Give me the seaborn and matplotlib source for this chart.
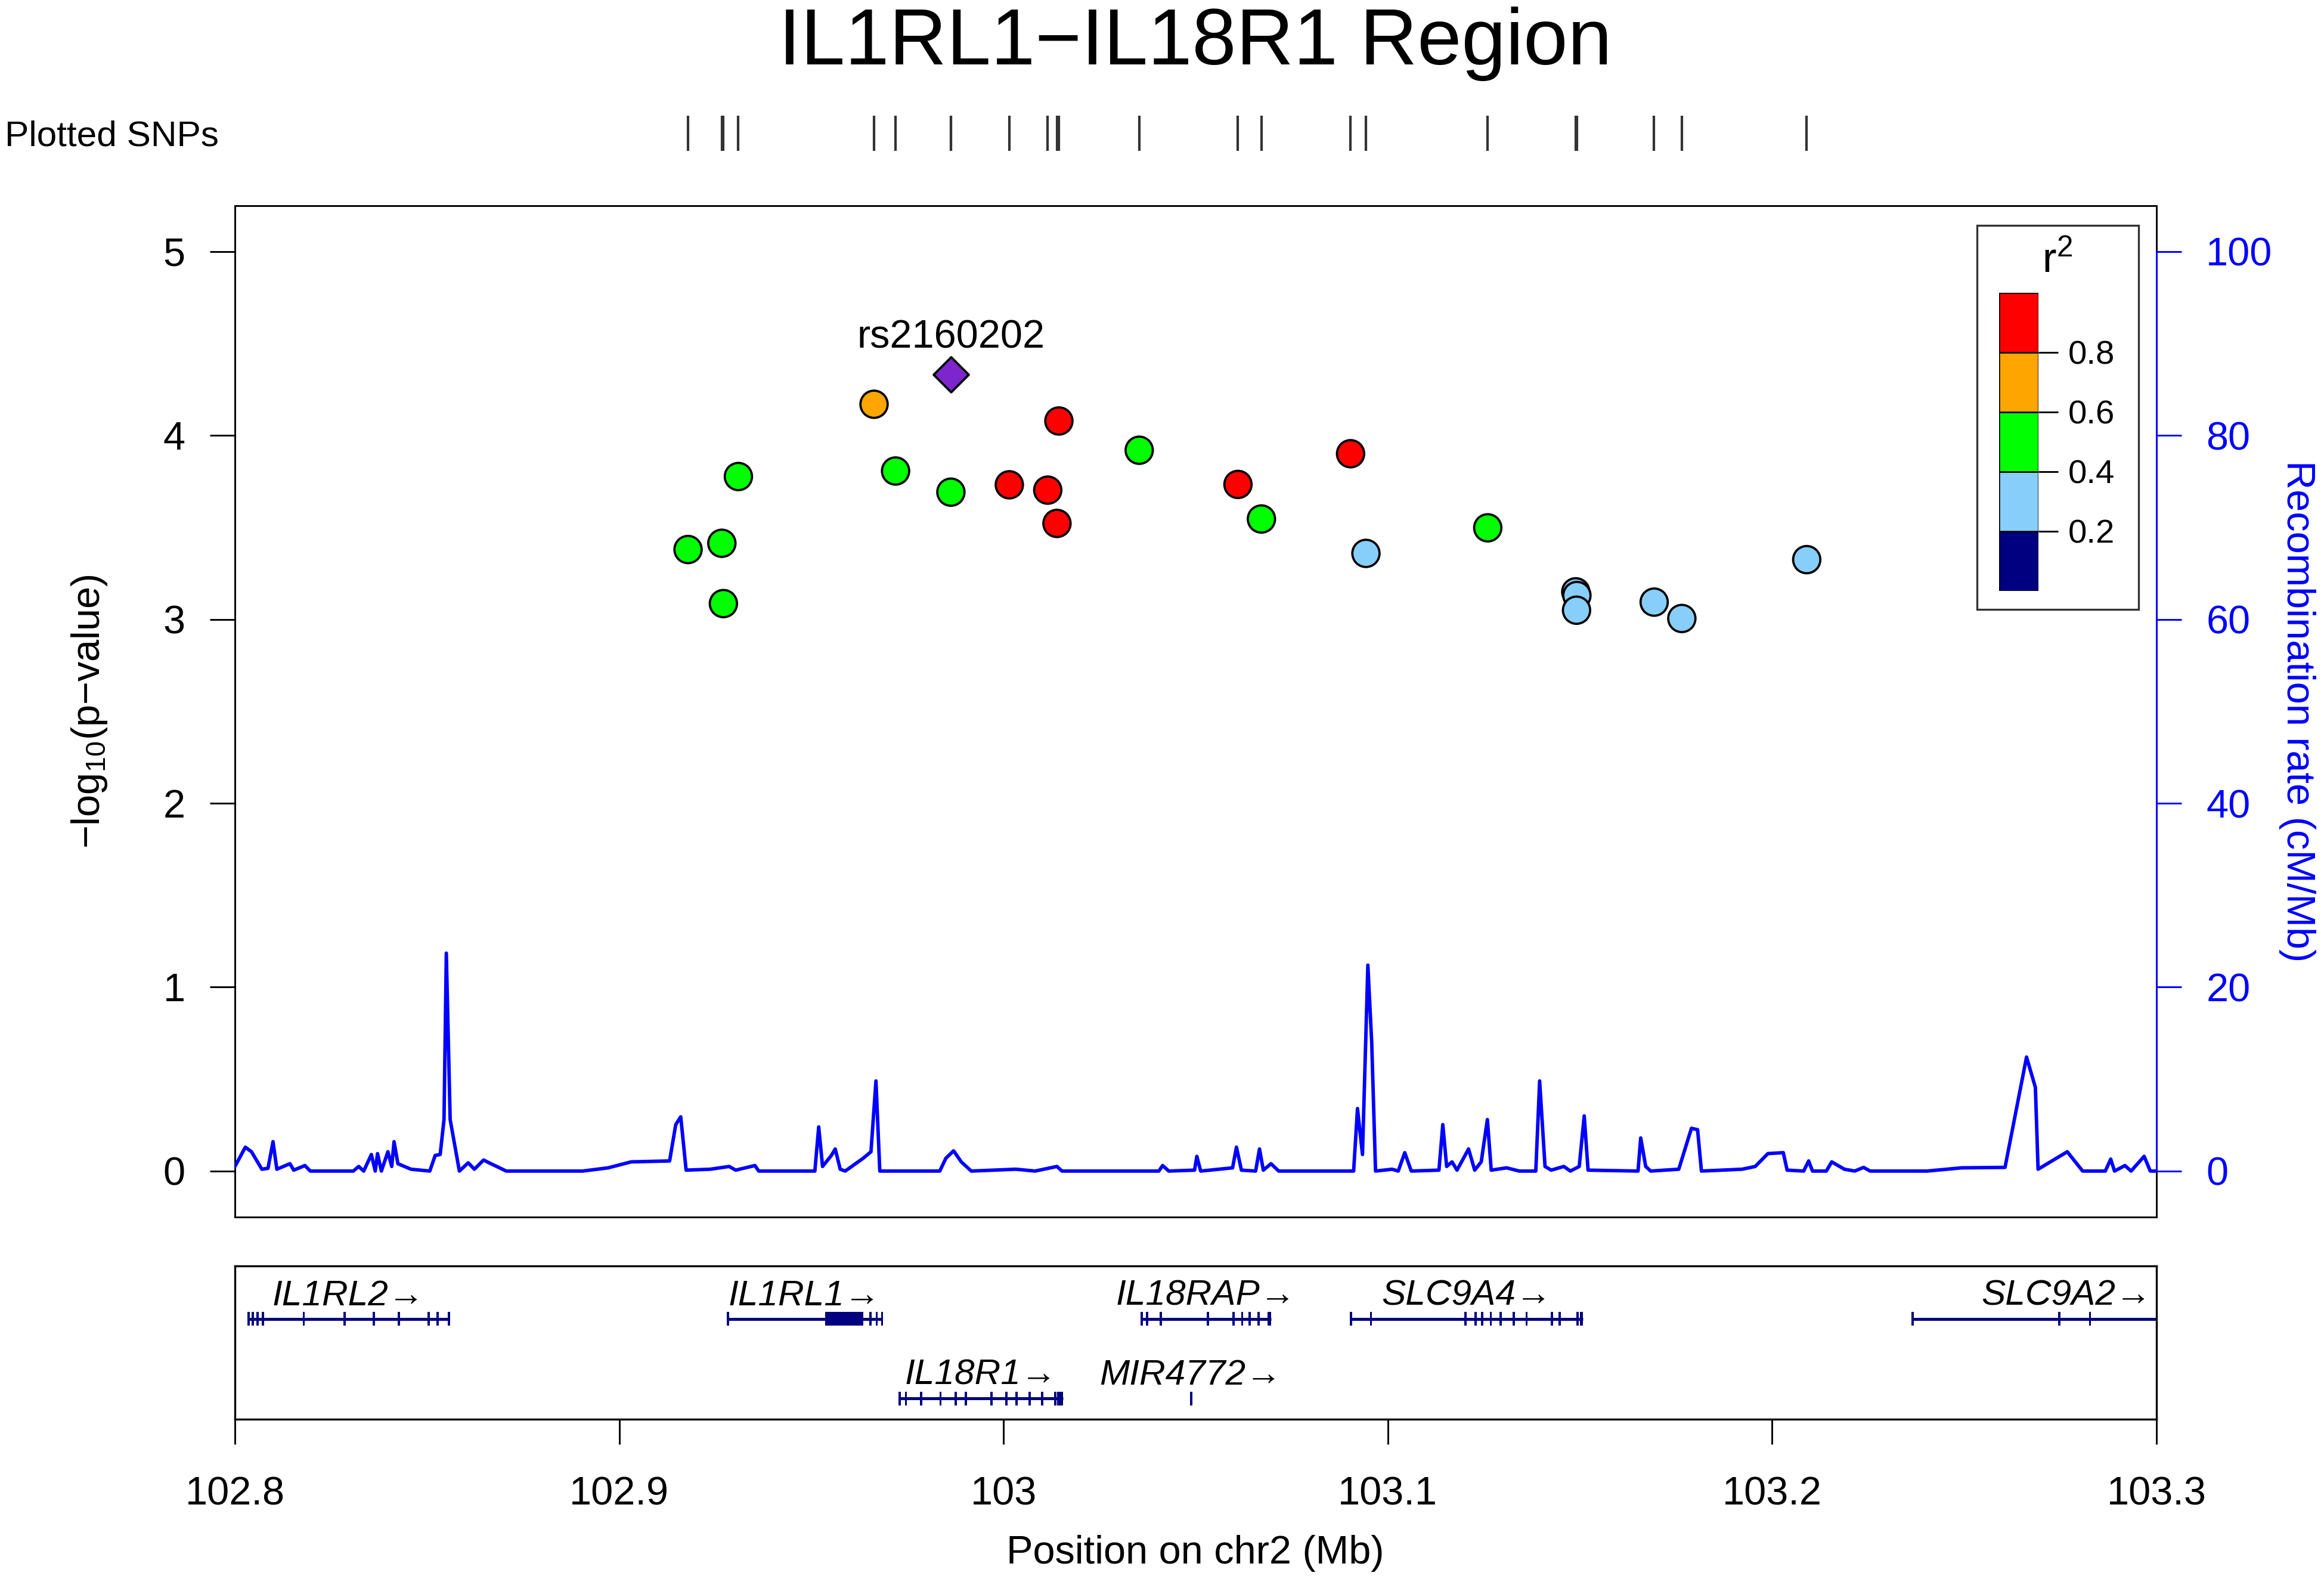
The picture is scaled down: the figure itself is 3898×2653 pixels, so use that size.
"""
Regional association plot (LocusZoom style) for the IL1RL1-IL18R1 region
"""

import matplotlib
matplotlib.use("Agg")
import matplotlib.pyplot as plt
from matplotlib.patches import Rectangle
import pandas as pd
import seaborn as sns

# ---- data -------------------------------------------------------------
# SNPs: position (Mb), -log10(p), LD bin with the lead SNP
snp_pos = [102.9179, 102.9267, 102.9271, 102.9310, 102.9663, 102.9719,
           102.9863, 103.0015, 103.0115, 103.0144, 103.0139, 103.0353,
           103.0610, 103.0671, 103.0903, 103.0943, 103.1260, 103.1489,
           103.1492, 103.1491, 103.1693, 103.1765, 103.2090]
snp_logp = [3.380, 3.414, 3.086, 3.777, 4.170, 3.807,
            3.692, 3.732, 3.703, 4.079, 3.522, 3.920,
            3.734, 3.546, 3.901, 3.359, 3.498, 3.150,
            3.130, 3.050, 3.094, 3.005, 3.325]
snp_ld = ["0.4-0.6", "0.4-0.6", "0.4-0.6", "0.4-0.6", "0.6-0.8", "0.4-0.6",
          "0.4-0.6", "0.8-1.0", "0.8-1.0", "0.8-1.0", "0.8-1.0", "0.4-0.6",
          "0.8-1.0", "0.4-0.6", "0.8-1.0", "0.2-0.4", "0.4-0.6", "0.2-0.4",
          "0.2-0.4", "0.2-0.4", "0.2-0.4", "0.2-0.4", "0.2-0.4"]

lead_name = "rs2160202"
lead_pos = 102.9863
lead_logp = 4.333

ld_bins = ["0.0-0.2", "0.2-0.4", "0.4-0.6", "0.6-0.8", "0.8-1.0"]
ld_colors = ["#000080", "#87CEFA", "#00FF00", "#FFA500", "#FF0000"]
ld_ticks = [0.2, 0.4, 0.6, 0.8]

# recombination rate (cM/Mb)
recomb_pos = [102.8000, 102.8027, 102.8043, 102.8070, 102.8086, 102.8099, 102.8109,
              102.8143, 102.8153, 102.8182, 102.8196, 102.8308, 102.8322, 102.8335,
              102.8355, 102.8365, 102.8371, 102.8381, 102.8398, 102.8408, 102.8414,
              102.8424, 102.8458, 102.8507, 102.8521, 102.8534, 102.8544, 102.8550,
              102.8560, 102.8584, 102.8607, 102.8623, 102.8647, 102.8666, 102.8706,
              102.8905, 102.8971, 102.9031, 102.9131, 102.9147, 102.9160, 102.9174,
              102.9237, 102.9286, 102.9303, 102.9353, 102.9363, 102.9509, 102.9519,
              102.9529, 102.9552, 102.9562, 102.9575, 102.9588, 102.9635, 102.9655,
              102.9668, 102.9678, 102.9834, 102.9850, 102.9870, 102.9890, 102.9916,
              103.0032, 103.0082, 103.0139, 103.0152, 103.0404, 103.0414, 103.0430,
              103.0497, 103.0503, 103.0513, 103.0596, 103.0606, 103.0619, 103.0656,
              103.0666, 103.0676, 103.0696, 103.0716, 103.0911, 103.0921, 103.0934,
              103.0948, 103.0958, 103.0968, 103.1011, 103.1027, 103.1044, 103.1061,
              103.1133, 103.1143, 103.1153, 103.1167, 103.1180, 103.1210, 103.1226,
              103.1243, 103.1259, 103.1269, 103.1309, 103.1342, 103.1385, 103.1395,
              103.1409, 103.1425, 103.1458, 103.1475, 103.1498, 103.1511, 103.1521,
              103.1651, 103.1658, 103.1671, 103.1684, 103.1757, 103.1790, 103.1806,
              103.1816, 103.1922, 103.1956, 103.1989, 103.2029, 103.2039, 103.2082,
              103.2095, 103.2105, 103.2141, 103.2155, 103.2188, 103.2215, 103.2238,
              103.2255, 103.2403, 103.2493, 103.2606, 103.2662, 103.2685, 103.2692,
              103.2768, 103.2808, 103.2867, 103.2881, 103.2891, 103.2918, 103.2934,
              103.2968, 103.2984, 103.3000]
recomb_rate = [0.5, 2.6, 2.1, 0.2, 0.3, 3.2, 0.2,
               0.8, 0.1, 0.6, 0.0, 0.0, 0.5, 0.0,
               1.8, 0.0, 1.9, 0.0, 2.1, 0.5, 3.2,
               0.8, 0.2, 0.0, 1.7, 1.8, 5.6, 23.7,
               5.6, 0.0, 0.9, 0.2, 1.2, 0.8, 0.0,
               0.0, 0.35, 1.0, 1.1, 5.05, 5.9, 0.1,
               0.2, 0.5, 0.1, 0.6, 0.0, 0.0, 4.8,
               0.5, 1.7, 2.4, 0.2, 0.0, 1.4, 2.1,
               9.8, 0.0, 0.0, 1.4, 2.2, 1.0, 0.0,
               0.2, 0.0, 0.5, 0.0, 0.0, 0.6, 0.0,
               0.1, 1.6, 0.0, 0.35, 2.6, 0.1, 0.0,
               2.4, 0.1, 0.8, 0.0, 0.0, 6.8, 1.8,
               22.4, 14.0, 0.0, 0.2, 0.0, 2.0, 0.0,
               0.1, 5.05, 0.5, 1.0, 0.1, 2.4, 0.1,
               1.0, 5.6, 0.1, 0.35, 0.0, 0.0, 9.8,
               0.5, 0.1, 0.5, 0.0, 0.5, 6.0, 0.1,
               0.0, 3.6, 0.5, 0.0, 0.2, 4.65, 4.5,
               0.0, 0.2, 0.5, 1.9, 2.0, 0.1, 0.0,
               1.1, 0.0, 0.0, 1.0, 0.2, 0.0, 0.4,
               0.0, 0.0, 0.35, 0.4, 12.4, 9.1, 0.2,
               2.1, 0.0, 0.0, 1.3, 0.0, 0.6, 0.0,
               1.6, 0.0, 0.0]

# genes: name, span (Mb), track row (1 = upper, 0 = lower), exons (start, end)
gene_names = ["IL1RL2", "IL1RL1", "IL18RAP", "SLC9A4", "SLC9A2", "IL18R1", "MIR4772"]
gene_start = [102.8033, 102.9280, 103.0357, 103.0901, 103.2363, 102.9727, 103.0487]
gene_end = [102.8557, 102.9684, 103.0696, 103.1508, 103.3170, 103.0155, 103.0487]
gene_row = [1, 1, 1, 1, 1, 0, 0]
gene_exons = [
    [(102.8033, 102.8036), (102.8043, 102.8046), (102.8056, 102.8059), (102.8070, 102.8073),
     (102.8176, 102.8178), (102.8282, 102.8284), (102.8358, 102.8362), (102.8424, 102.8426),
     (102.8501, 102.8503), (102.8524, 102.8526), (102.8554, 102.8557)],
    [(102.9280, 102.9282), (102.9535, 102.9635), (102.9651, 102.9654), (102.9667, 102.9670),
     (102.9681, 102.9684)],
    [(103.0357, 103.0360), (103.0370, 103.0373), (103.0406, 103.0409), (103.0529, 103.0531),
     (103.0595, 103.0598), (103.0618, 103.0621), (103.0638, 103.0641), (103.0661, 103.0664),
     (103.0687, 103.0696)],
    [(103.0901, 103.0904), (103.0953, 103.0956), (103.1199, 103.1202), (103.1225, 103.1228),
     (103.1242, 103.1245), (103.1265, 103.1268), (103.1291, 103.1294), (103.1325, 103.1328),
     (103.1358, 103.1361), (103.1424, 103.1427), (103.1444, 103.1447), (103.1490, 103.1493),
     (103.1500, 103.1508)],
    [(103.2363, 103.2365), (103.2744, 103.2747), (103.2824, 103.2827)],
    [(102.9727, 102.9731), (102.9743, 102.9746), (102.9783, 102.9786), (102.9833, 102.9836),
     (102.9872, 102.9875), (102.9899, 102.9902), (102.9965, 102.9968), (103.0005, 103.0008),
     (103.0031, 103.0034), (103.0065, 103.0068), (103.0098, 103.0101), (103.0131, 103.0134),
     (103.0139, 103.0155)],
    [(103.0486, 103.0488)],
]

x_ticks = [102.8, 102.9, 103.0, 103.1, 103.2, 103.3]
x_tick_labels = ["102.8", "102.9", "103", "103.1", "103.2", "103.3"]
y_ticks = [0, 1, 2, 3, 4, 5]
recomb_ticks = [0, 20, 40, 60, 80, 100]

title = "IL1RL1\u2212IL18R1 Region"

# ---- style ------------------------------------------------------------
sns.set_theme(style="ticks")
plt.rcParams["font.family"] = ["Liberation Sans", "DejaVu Sans"]
plt.rcParams["mathtext.fontset"] = "custom"
plt.rcParams["mathtext.rm"] = "Liberation Sans"
plt.rcParams["mathtext.it"] = "Liberation Sans:italic"
plt.rcParams["axes.linewidth"] = 0.7
plt.rcParams["axes.edgecolor"] = "black"
for key in ["text.color", "axes.labelcolor", "xtick.color", "ytick.color"]:
    plt.rcParams[key] = "black"

NAVY = "#000080"
BLUE = "#0000FF"
XLIM = (102.8, 103.3)

fig = plt.figure(figsize=(3898 / 300, 2653 / 300), dpi=300)

L, W = 0.1011, 0.8268
ax = fig.add_axes([L, 0.2307, W, 0.6393])
gax = fig.add_axes([L, 0.1029, W, 0.0969])
rax = fig.add_axes([L, 0.9046, W, 0.0223])

# ---- main association panel ----------------------------------------------
df = pd.DataFrame({"pos": snp_pos, "logp": snp_logp, "ld": snp_ld})
sns.scatterplot(data=df, x="pos", y="logp", hue="ld",
                palette=dict(zip(ld_bins, ld_colors)), s=120,
                edgecolor="black", linewidth=0.9, legend=False, ax=ax, zorder=3)
sns.scatterplot(x=[lead_pos], y=[lead_logp], marker="D", color="#7D26CD",
                s=100, edgecolor="black", linewidth=0.9, ax=ax, zorder=4)
ax.annotate(lead_name, (lead_pos, lead_logp), xytext=(0, 10.5),
            textcoords="offset points", ha="center", va="baseline", fontsize=16)

ax.set_xlim(*XLIM)
ax.set_ylim(-0.25, 5.25)
ax.set_yticks(y_ticks)
ax.set_yticklabels([str(t) for t in y_ticks])
ax.set_xticks([])
ax.set_xlabel("")
ax.set_ylabel("")
ax.tick_params(axis="y", length=10, width=0.7, pad=10, labelsize=16, colors="black")

# recombination rate on a twin axis
ax2 = ax.twinx()
sns.lineplot(x=recomb_pos, y=recomb_rate, ax=ax2, color=BLUE, lw=1.4,
             estimator=None, sort=False)
ax2.set_ylim(-5, 105)
ax2.set_yticks(recomb_ticks)
ax2.set_yticklabels([str(t) for t in recomb_ticks])
ax2.set_xlim(*XLIM)
ax2.tick_params(axis="y", length=10, width=0.7, pad=10, labelsize=16, colors=BLUE)
for side in ["left", "top", "bottom"]:
    ax2.spines[side].set_visible(False)
ax2.spines["right"].set_color(BLUE)
ax2.spines["right"].set_bounds(0, 100)
ax2.set_ylabel("")

# r^2 legend
ax.add_patch(Rectangle((0.9066, 0.6008), 0.0841, 0.3797, transform=ax.transAxes,
                       facecolor="white", edgecolor="#333333", lw=0.8, zorder=5))
cax = ax.inset_axes([0.9181, 0.6191, 0.0205, 0.2948])
cax.set_zorder(6)
cax.bar(x=[0] * len(ld_colors), height=[0.2] * len(ld_colors),
        bottom=[0.0, 0.2, 0.4, 0.6, 0.8], width=1, align="edge",
        color=ld_colors, edgecolor="black", lw=0.6)
cax.set_xlim(0, 1)
cax.set_ylim(0, 1)
cax.set_xticks([])
cax.yaxis.tick_right()
cax.set_yticks(ld_ticks)
cax.set_yticklabels([f"{t:.1f}" for t in ld_ticks])
cax.tick_params(axis="y", length=8, width=0.7, pad=4, labelsize=13.5)
for s in cax.spines.values():
    s.set_visible(False)
ax.text(0.9485, 0.945, r"$\mathregular{r^2}$", transform=ax.transAxes,
        ha="center", va="center", fontsize=17, zorder=7)

# ---- plotted SNPs rug -------------------------------------------------------
sns.rugplot(x=snp_pos + [lead_pos], height=1, ax=rax, color="#333333", lw=1.1)
rax.set_xlim(*XLIM)
rax.set_ylim(0, 1)
rax.axis("off")
fig.text(0.0021, 0.9077, "Plotted SNPs", ha="left", va="baseline", fontsize=14.5)

# ---- gene track ------------------------------------------------------------
EXON_H = 0.086
for name, start, end, row, exons in zip(gene_names, gene_start, gene_end,
                                        gene_row, gene_exons):
    gax.hlines(row, start, end, color=NAVY, lw=1.2)
    for es, ee in exons:
        gax.add_patch(Rectangle((es, row - EXON_H), max(ee - es, 0.0006), 2 * EXON_H,
                                facecolor=NAVY, edgecolor="none"))
    gax.text((start + end) / 2, row + 0.175, name + "\u2192", ha="center",
             va="baseline", fontsize=14.5, style="italic", clip_on=True)

gax.set_xlim(*XLIM)
gax.set_ylim(-0.2625, 1.668)
gax.set_yticks([])
gax.set_xticks(x_ticks)
gax.set_xticklabels(x_tick_labels)
gax.tick_params(axis="x", length=10, width=0.7, pad=13, labelsize=16)
for s in gax.spines.values():
    s.set_linewidth(0.8)

# ---- labels ----------------------------------------------------------------
fig.text(0.5144, 0.9593, title, ha="center", va="baseline", fontsize=32)
fig.text(0.0385, 0.5503, r"$\mathregular{-log_{10}(p{-}value)}$", rotation=90,
         ha="center", va="center", fontsize=16)
fig.text(0.9885, 0.5503, "Recombination rate (cM/Mb)", rotation=270,
         ha="center", va="center", fontsize=16, color=BLUE)
fig.text(0.5144, 0.018, "Position on chr2 (Mb)", ha="center", va="center",
         fontsize=16)

fig.savefig("out.png", dpi=300)
plt.close(fig)
